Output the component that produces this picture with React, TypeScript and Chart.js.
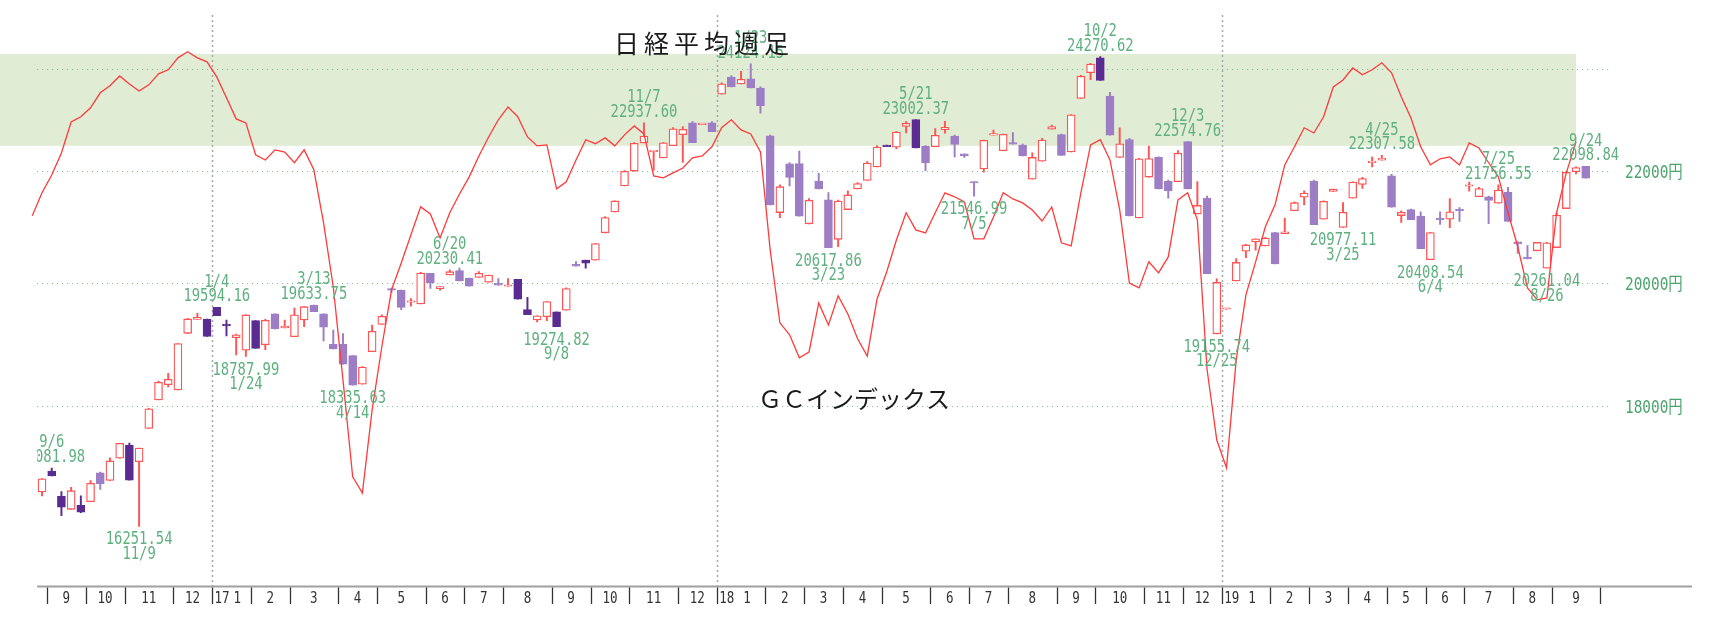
import { useEffect, useRef } from 'react';
import { Chart, registerables } from 'chart.js';

Chart.register(...registerables);

// ---------- DATA ----------
// Week (Monday) of each weekly candle
const WEEKS = [
  '2016-08-29','2016-09-05','2016-09-12','2016-09-19','2016-09-26','2016-10-03','2016-10-10','2016-10-17','2016-10-24','2016-10-31',
  '2016-11-07','2016-11-14','2016-11-21','2016-11-28','2016-12-05','2016-12-12','2016-12-19','2016-12-26',
  '2017-01-02','2017-01-09','2017-01-16','2017-01-23','2017-01-30','2017-02-06','2017-02-13','2017-02-20','2017-02-27','2017-03-06',
  '2017-03-13','2017-03-20','2017-03-27','2017-04-03','2017-04-10','2017-04-17','2017-04-24','2017-05-01','2017-05-08','2017-05-15',
  '2017-05-22','2017-05-29','2017-06-05','2017-06-12','2017-06-19','2017-06-26','2017-07-03','2017-07-10','2017-07-17','2017-07-24',
  '2017-07-31','2017-08-07','2017-08-14','2017-08-21','2017-08-28','2017-09-04','2017-09-11','2017-09-18','2017-09-25','2017-10-02',
  '2017-10-09','2017-10-16','2017-10-23','2017-10-30','2017-11-06','2017-11-13','2017-11-20','2017-11-27','2017-12-04','2017-12-11',
  '2017-12-18','2017-12-25',
  '2018-01-01','2018-01-08','2018-01-15','2018-01-22','2018-01-29','2018-02-05','2018-02-12','2018-02-19','2018-02-26','2018-03-05',
  '2018-03-12','2018-03-19','2018-03-26','2018-04-02','2018-04-09','2018-04-16','2018-04-23','2018-04-30','2018-05-07','2018-05-14',
  '2018-05-21','2018-05-28','2018-06-04','2018-06-11','2018-06-18','2018-06-25','2018-07-02','2018-07-09','2018-07-16','2018-07-23',
  '2018-07-30','2018-08-06','2018-08-13','2018-08-20','2018-08-27','2018-09-03','2018-09-10','2018-09-17','2018-09-24','2018-10-01',
  '2018-10-08','2018-10-15','2018-10-22','2018-10-29','2018-11-05','2018-11-12','2018-11-19','2018-11-26','2018-12-03','2018-12-10',
  '2018-12-17','2018-12-24','2018-12-31',
  '2019-01-07','2019-01-14','2019-01-21','2019-01-28','2019-02-04','2019-02-11','2019-02-18','2019-02-25','2019-03-04','2019-03-11',
  '2019-03-18','2019-03-25','2019-04-01','2019-04-08','2019-04-15','2019-04-22','2019-05-06','2019-05-13','2019-05-20','2019-05-27',
  '2019-06-03','2019-06-10','2019-06-17','2019-06-24','2019-07-01','2019-07-08','2019-07-15','2019-07-22','2019-07-29','2019-08-05',
  '2019-08-12','2019-08-19','2019-08-26','2019-09-02','2019-09-09','2019-09-16','2019-09-23',
];

const OPEN = [
  16737,17037,16672,16490,16545,16598,17013,16900,17225,17420,
  17175,17670,18103,18342,18260,19164,19391,19400,19594.16,19300,
  19094,18891,19372,18977,19484,19251,19108,19383,19633.75,19484,
  18986,18983,18803,18350,18866,19310,19896,19883,19679,19650,
  20170,19909,20142,20220,20090,20100,20020,20000,19950,20070,
  19555,19383,19437,19520,19546,20325,20400,20400,20881,21256,
  21733,22012,22548,22381,22261,22495,22707,22938,22901,22939,
  23506,23849,23714,23817,23630,22682,21245,22150,22153,21042,
  21824,21480,20766,21300,21678,21835,22088,22508,22467,22865,
  23002.37,22481,22475,22804,22680,22338,21812,22052,22697,22397,
  22545,22507,21858,22199,22813,22707,22373,23420,23940,24245,
  23470,22271,22614,21149,21899,22270,21822,21812,22574.76,21220,
  21506,19155.74,19561.96,20039,20555,20720,20649,20884,20864,21281,
  21528,21822,21125,21633,20977.11,21509,21762,22169,22217,21923,
  21191,21302,21182,20408.54,21134,21124,21286,21729,21534,21535,
  21417,21617,20720,20455,20563,20261.04,20620,21318,22001,22098.84,
];

const HIGH = [
  16930,17081.98,16740,16802,16682,16900,17024,17232,17446,17450,
  17375,17976,18400,18520,18996,19412,19494,19400,19594.16,19383,
  19150,19467,19372,19394,19484,19380,19581,19605,19633.75,19484,
  19218,19161,18803,18627,19300,19467,19920,19883,19742,20189,
  20170,19943,20230.41,20260,20090,20200,20140,20080,20080,20070,
  19760,19453,19691,19520,19925,20373,20400,20694,21171,21458,
  22019,22552,22937.60,22397,22552,22843,22866,22960,22903,22960,
  23737,23880,23968,24124.15,23655,22700,21754,22170,22390,21503,
  21968,21610,21475,21645,21795,22190,22498,22508,22765,22960,
  23002.37,22498,22823,22966,22700,22338,21812,22604,22794,22720,
  22746,22526,22356,22636,22895,22720,23100,23889,24133,24270.62,
  23545,22841,22636,22253,22486,22279,21844,22400,22574.76,21816,
  21546,20077,19561.96,20428,20677,20774,20801,20889,21144,21442,
  21644,21844,21460,21675,21428,21812,21895,22278,22307.58,21952,
  21275,21311,21260,20889,21259,21500,21338,21807,21708,21547,
  21756.55,21709,20720,20656,20712,20712,21241,22000,22094,22098.84,
];

const LOW = [
  16680,16966,16400,16490,16442,16598,16774,16900,17225,16905,
  16251.54,17670,18103,18307,18260,19164,19391,19114,19454,19120,
  18813,18787.99,18918,18900,19235,19251,19108,19272,19522,19041,
  18909,18665,18335.63,18350,18866,19310,19843,19553,19613,19650,
  19913,19883,20142,20040,19950,20100,20020,19970,19950,19730,
  19470,19350,19370,19274.82,19546,20296,20260,20400,20881,21256,
  21733,22012,22548,22028,22261,22495,22177,22553,22901,22765,
  23506,23654,23714,23632,23130,21383,21154,21736,21182,21042,
  21677,20617.86,20635,21300,21678,21835,22088,22473,22430,22740,
  22451,22018,22475,22738,22278,22271,21546.99,21990,22697,22397,
  22525,22298,21858,22199,22813,22307,22373,23420,23797,23784,
  22695,22271,21185,21149,21899,21680,21507,21812,21679,21220,
  20166,19155.74,19561.96,20039,20442,20574,20649,20333,20864,21281,
  21385,21026,21125,21633,20977.11,21509,21688,22090,22217,21345,
  21067,21117,20601,20408.54,21032,20973,21086,21638,21534,21046,
  21417,21087,20517,20419,20563,20261.04,20620,21318,21960,21879,
];

const CLOSE = [
  16925,16966,16519,16754,16450,16860,16856,17185,17446,16905,
  17374.79,17967,18381,18426,18996,19401,19428,19114,19454,19287,
  19138,19467,18918,19379,19235,19284,19469,19605,19522,19263,
  18909,18665,18335.63,18621,19197,19446,19884,19591,19687,20177,
  20013,19943,20200,20040,19950,20170,20140,19970,19975,19730,
  19470,19453,19691,19274.82,19910,20296,20345,20691,21155,21458,
  22008,22539,22681,22397,22551,22819,22811,22553,22903,22765,
  23715,23654,23808,23632,23275,21383,21720,21893,21182,21469,
  21677,20617.86,21454,21568,21779,22162,22468,22473,22758,22930,
  22451,22171,22695,22852,22517,22305,21788,22597,22698,22713,
  22525,22298,22270,22602,22865,22307,23095,23870,24120,23784,
  22695,22532,21185,22244,22250,21680,21647,22351,21679,21375,
  20166,20015,19561.96,20360,20666,20774,20788,20333,20901,21426,
  21603,21026,21451,21675,21250,21808,21871,22201,22259,21345,
  21250,21117,20601,20885,21117,21259,21276,21746,21686,21467,
  21658,21087,20685,20419,20711,20704,21200,21988,22079,21879,
];

// GC index, one value per week, plotted one week earlier than its candle
const GC_INDEX = [
  27.2,34.7,40.5,47.7,57.8,59.5,62.4,67.3,69.6,72.8,
  70.2,67.9,69.9,73.5,74.8,78.7,80.7,78.7,77.4,72.5,
  65.7,58.8,57.5,47.1,45.4,48.7,48.0,44.5,48.7,42.2,
  24.9,4.0,-26.3,-57.9,-63.2,-36.1,-15.5,3.0,11.8,21.0,
  30.1,27.8,20.0,28.2,34.3,39.9,46.7,52.9,58.5,62.7,
  59.5,52.9,50.0,50.3,36.0,38.3,45.4,52.0,50.7,52.6,
  50.0,53.6,56.5,53.9,40.2,39.6,41.2,42.8,46.1,46.7,
  49.7,55.9,58.5,55.2,53.9,48.0,16.1,-7.7,-11.6,-19.1,
  -17.2,-1.2,-8.4,1.1,-4.8,-12.9,-18.5,0.0,8.9,19.3,
  28.2,22.6,21.6,28.2,34.7,33.4,31.7,19.7,19.7,26.8,
  34.7,32.7,31.4,29.1,25.5,30.1,18.4,17.4,34.7,50.3,
  52.0,45.4,29.1,5.3,3.7,12.2,8.6,13.8,32.4,34.7,
  25.9,-23.0,-45.9,-55.0,-19.8,1.4,12.2,23.6,30.8,43.8,
  49.7,55.9,54.2,59.5,69.2,71.5,75.4,73.2,74.8,77.1,
  73.8,66.0,59.1,49.7,43.8,45.8,46.4,43.8,51.0,49.3,
  44.5,39.9,28.2,17.1,3.7,-0.2,0.4,28.2,41.2,51.3,
];
const GC_LAG = 1;
const GC_ZONE = [50, 80];

const PRICE_GRID = [18000, 20000, 22000, 24000];
const PRICE_LABELS = ['18000円', '20000円', '22000円', ''];

const MARKS = [
  { i: 1, date: '9/6', kind: 'high' },
  { i: 10, date: '11/9', kind: 'low' },
  { i: 18, date: '1/4', kind: 'high' },
  { i: 21, date: '1/24', kind: 'low' },
  { i: 28, date: '3/13', kind: 'high' },
  { i: 32, date: '4/14', kind: 'low' },
  { i: 42, date: '6/20', kind: 'high' },
  { i: 53, date: '9/8', kind: 'low' },
  { i: 62, date: '11/7', kind: 'high' },
  { i: 73, date: '1/23', kind: 'high' },
  { i: 81, date: '3/23', kind: 'low' },
  { i: 90, date: '5/21', kind: 'high' },
  { i: 96, date: '7/5', kind: 'low' },
  { i: 109, date: '10/2', kind: 'high' },
  { i: 118, date: '12/3', kind: 'high' },
  { i: 121, date: '12/25', kind: 'low' },
  { i: 134, date: '3/25', kind: 'low' },
  { i: 138, date: '4/25', kind: 'high' },
  { i: 143, date: '6/4', kind: 'low' },
  { i: 150, date: '7/25', kind: 'high' },
  { i: 155, date: '8/26', kind: 'low' },
  { i: 159, date: '9/24', kind: 'high' },
];

const TITLE = '日経平均週足';
const GC_TITLE = 'ＧＣインデックス';

// ---------- STYLE ----------
const X_MIN = -0.5;
const X_MAX = 161.5;
const DARK_DOWN = new Set([1, 2, 4, 9, 17, 18, 19, 22, 49, 50, 53, 56, 87, 90, 109]);
const UP_LINE = '#ff5555';
const DOWN_LIGHT = '#9d7dc4';
const DOWN_DARK = '#5a2b91';
const MONO = '"DejaVu Sans Mono", "Noto Sans CJK JP", monospace';
const CJK = '"Noto Sans CJK JP", sans-serif';

const isUp = (i: number) => CLOSE[i] >= OPEN[i];
const candleColor = (i: number) => (isUp(i) ? UP_LINE : DARK_DOWN.has(i) ? DOWN_DARK : DOWN_LIGHT);

function monthOf(s: string) {
  const [y, m, d] = s.split('-').map(Number);
  const dt = new Date(Date.UTC(y, m - 1, d + 2));
  return { y: dt.getUTCFullYear(), m: dt.getUTCMonth() + 1 };
}

function drawCondensed(ctx: CanvasRenderingContext2D, text: string, x: number, y: number, font: string, color: string, align: string, sx: number) {
  ctx.save();
  ctx.font = font;
  ctx.fillStyle = color;
  ctx.textAlign = 'left';
  ctx.textBaseline = 'alphabetic';
  const w = ctx.measureText(text).width * sx;
  const left = align === 'center' ? x - w / 2 : align === 'right' ? x - w : x;
  ctx.translate(left, y);
  ctx.scale(sx, 1);
  ctx.fillText(text, 0, 0);
  ctx.restore();
}

const decor = {
  id: 'decor',
  beforeDraw(chart: any) {
    const { ctx, scales } = chart;
    ctx.save();
    ctx.fillStyle = '#ffffff';
    ctx.fillRect(0, 0, chart.width, chart.height);
    const y2 = scales.y2;
    const top = y2.getPixelForValue(GC_ZONE[1]);
    const bot = y2.getPixelForValue(GC_ZONE[0]);
    const xEnd = scales.x.getPixelForValue(GC_INDEX.length - 1 - GC_LAG);
    ctx.fillStyle = '#e0ecd4';
    ctx.fillRect(0, top, xEnd, bot - top);
    ctx.restore();
  },
  beforeDatasetsDraw(chart: any) {
    const { ctx, chartArea: a, scales } = chart;
    const x = scales.x;
    const bounds: { i: number; y: number; m: number }[] = [];
    for (let i = 1; i < WEEKS.length; i++) {
      const p = monthOf(WEEKS[i - 1]);
      const q = monthOf(WEEKS[i]);
      if (p.m !== q.m) bounds.push({ i, y: q.y, m: q.m });
    }
    const endSlot = WEEKS.length + 1;
    ctx.save();
    ctx.strokeStyle = '#a0a0a0';
    ctx.lineWidth = 2;
    ctx.beginPath();
    ctx.moveTo(a.left, a.bottom + 0.5);
    ctx.lineTo(chart.width - 22, a.bottom + 0.5);
    ctx.stroke();
    ctx.strokeStyle = '#a8a8a8';
    ctx.lineWidth = 1.5;
    ctx.setLineDash([2, 3]);
    for (const b of bounds) {
      if (b.m !== 1) continue;
      const px = Math.round(x.getPixelForValue(b.i - 0.5)) + 0.5;
      ctx.beginPath();
      ctx.moveTo(px, 15);
      ctx.lineTo(px, a.bottom);
      ctx.stroke();
    }
    ctx.setLineDash([]);
    ctx.strokeStyle = '#333';
    ctx.lineWidth = 1.3;
    const tickIdx = bounds.map((b) => b.i).concat([endSlot]);
    for (const ti of tickIdx) {
      const px = Math.round(x.getPixelForValue(ti - 0.5)) + 0.5;
      ctx.beginPath();
      ctx.moveTo(px, a.bottom + 1.5);
      ctx.lineTo(px, a.bottom + 18);
      ctx.stroke();
    }
    ctx.restore();
    const font = `16.5px ${MONO}`;
    for (let k = 0; k < bounds.length; k++) {
      const b = bounds[k];
      const nextI = k + 1 < bounds.length ? bounds[k + 1].i : endSlot;
      const x0 = x.getPixelForValue(b.i - 0.5);
      const x1 = x.getPixelForValue(nextI - 0.5);
      const baseY = a.bottom + 17;
      if (b.m === 1) {
        drawCondensed(ctx, String(b.y % 100), x0 + 2.5, baseY, font, '#333', 'left', 0.76);
        drawCondensed(ctx, '1', (x0 + x1) / 2 + 6, baseY, font, '#333', 'center', 0.76);
      } else {
        drawCondensed(ctx, String(b.m), (x0 + x1) / 2, baseY, font, '#333', 'center', 0.76);
      }
    }
  },
  afterDatasetsDraw(chart: any) {
    const { ctx, chartArea: a, scales } = chart;
    const x = scales.x;
    const y = scales.y;
    PRICE_GRID.forEach((v, k) => {
      if (!PRICE_LABELS[k]) return;
      drawCondensed(ctx, PRICE_LABELS[k], a.right + 15, y.getPixelForValue(v) + 6.5, `18px ${MONO}`, '#4aa36c', 'left', 0.8);
    });
    ctx.save();
    ctx.beginPath();
    ctx.rect(a.left, 0, chart.width - a.left, chart.height);
    ctx.clip();
    const f = `18px ${MONO}`;
    const col = '#5eb07f';
    for (const mk of MARKS) {
      const px = x.getPixelForValue(mk.i);
      if (mk.kind === 'high') {
        const value = HIGH[mk.i];
        const py = y.getPixelForValue(value);
        drawCondensed(ctx, value.toFixed(2), px, py - 6, f, col, 'center', 0.77);
        drawCondensed(ctx, mk.date, px, py - 20.5, f, col, 'center', 0.77);
      } else {
        const value = LOW[mk.i];
        const py = y.getPixelForValue(value);
        drawCondensed(ctx, value.toFixed(2), px, py + 18, f, col, 'center', 0.77);
        drawCondensed(ctx, mk.date, px, py + 32.5, f, col, 'center', 0.77);
      }
    }
    ctx.restore();
    ctx.save();
    ctx.fillStyle = '#1a1a1a';
    ctx.textBaseline = 'middle';
    ctx.textAlign = 'left';
    ctx.font = `25px ${CJK}`;
    (ctx as any).letterSpacing = '5px';
    ctx.fillText(TITLE, 614, 43.5);
    (ctx as any).letterSpacing = '0px';
    ctx.font = `24px ${CJK}`;
    ctx.fillText(GC_TITLE, 758, 398.5);
    ctx.restore();
  },
};

export default function App() {
  const ref = useRef<HTMLCanvasElement>(null);
  useEffect(() => {
    const canvas = ref.current;
    if (!canvas) return;
    const forceX = (s: any) => {
      s.min = X_MIN;
      s.max = X_MAX;
    };
    const chart = new Chart(canvas, {
      type: 'bar',
      data: {
        datasets: [
          {
            type: 'line',
            label: 'GC',
            data: GC_INDEX.map((v, j) => ({ x: j - GC_LAG, y: v })),
            yAxisID: 'y2',
            borderColor: '#ff3a3a',
            borderWidth: 1.3,
            pointRadius: 0,
            tension: 0,
            clip: false,
            order: 0,
          } as any,
          {
            type: 'bar',
            label: 'body',
            data: OPEN.map((o, i) => ({ x: i, y: [o, CLOSE[i]] })),
            yAxisID: 'y',
            backgroundColor: (c: any) => (isUp(c.dataIndex) ? '#ffffff' : candleColor(c.dataIndex)),
            borderColor: (c: any) => candleColor(c.dataIndex),
            borderWidth: 1.3,
            borderSkipped: false,
            barThickness: 8,
            minBarLength: 1.5,
            grouped: false,
            order: 1,
          } as any,
          {
            type: 'bar',
            label: 'wick',
            data: LOW.map((l, i) => ({ x: i, y: [l, HIGH[i]] })),
            yAxisID: 'y',
            backgroundColor: (c: any) => candleColor(c.dataIndex),
            borderWidth: 0,
            barThickness: 1.3,
            minBarLength: 1,
            grouped: false,
            order: 2,
          } as any,
        ],
      },
      options: {
        animation: false,
        responsive: false,
        devicePixelRatio: 1,
        layout: { padding: { left: 37.15, right: 104, top: 10, bottom: 33 } },
        plugins: { legend: { display: false }, tooltip: { enabled: false }, title: { display: false } },
        scales: {
          x: {
            type: 'linear',
            min: X_MIN,
            max: X_MAX,
            bounds: 'data',
            offset: false,
            grace: 0,
            display: false,
            afterDataLimits: forceX,
            afterBuildTicks: forceX,
          },
          y: {
            type: 'logarithmic',
            position: 'right',
            min: 15444.5,
            max: 25257.6,
            bounds: 'data',
            afterBuildTicks: (s: any) => {
              s.ticks = PRICE_GRID.map((v) => ({ value: v }));
              s.min = 15444.5;
              s.max = 25257.6;
            },
            afterFit: (s: any) => {
              s.width = 0;
            },
            ticks: { display: false },
            grid: { color: '#72b98c', lineWidth: 1, drawTicks: false },
            border: { display: false, dash: [1, 4] },
          },
          y2: { type: 'linear', min: -93.5, max: 94.3, bounds: 'data', display: false },
        },
      } as any,
      plugins: [decor],
    });
    return () => chart.destroy();
  }, []);
  return (
    <div style={{ position: 'fixed', left: 0, top: 0, width: 1714, height: 619, background: '#fff' }}>
      <canvas ref={ref} width={1714} height={619} style={{ display: 'block', width: 1714, height: 619 }} />
    </div>
  );
}
